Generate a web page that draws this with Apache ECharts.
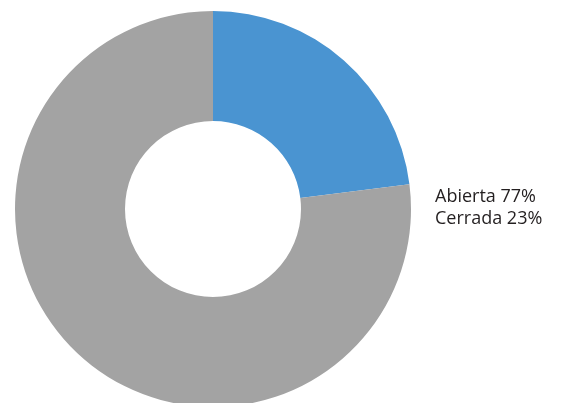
<!DOCTYPE html>
<html>
<head>
<meta charset="utf-8">
<script src="https://cdn.jsdelivr.net/npm/echarts@6/dist/echarts.min.js"></script>
<style>
  html, body { margin: 0; padding: 0; background: #fff; }
  #chart { width: 561px; height: 403px; }
</style>
</head>
<body>
<div id="chart"></div>
<script>
// Share of open vs. closed
const categories = ['Cerrada', 'Abierta'];
const shares = [23, 77];
const colors = ['#4a94d1', '#a3a3a3'];
const legendOrder = ['Abierta', 'Cerrada'];

const chart = echarts.init(document.getElementById('chart'), null, { renderer: 'canvas' });

const pieData = categories.map((name, i) => ({
  name: name,
  value: shares[i],
  itemStyle: { color: colors[i] }
}));

chart.setOption({
  animation: false,
  legend: {
    orient: 'vertical',
    left: 435,
    top: 186,
    padding: 0,
    data: legendOrder,
    icon: 'none',
    itemWidth: 0,
    itemHeight: 0,
    itemGap: 0,
    selectedMode: false,
    formatter: function (name) {
      const i = categories.indexOf(name);
      return name + ' ' + shares[i] + '%';
    },
    textStyle: {
      fontFamily: 'Open Sans',
      fontSize: 18,
      lineHeight: 22,
      color: '#231f20',
      padding: [0, 0, 0, -5]
    }
  },
  series: [{
    type: 'pie',
    center: [213, 209],
    radius: [88, 198],
    startAngle: 90,
    clockwise: true,
    label: { show: false },
    labelLine: { show: false },
    emphasis: { disabled: true },
    itemStyle: { borderWidth: 0 },
    data: pieData
  }]
});
</script>
</body>
</html>
